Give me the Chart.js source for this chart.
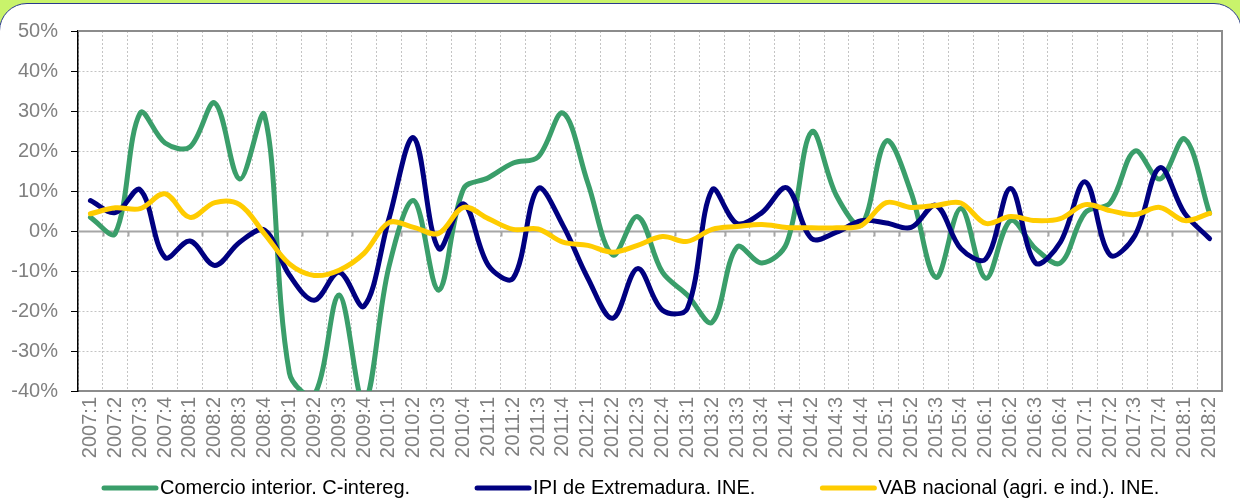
<!DOCTYPE html>
<html>
<head>
<meta charset="utf-8">
<script src="https://cdn.jsdelivr.net/npm/chart.js@4.4.1/dist/chart.umd.min.js"></script>
<style>
  html, body { margin: 0; padding: 0; }
  body { width: 1240px; height: 501px; background: #c9f36b; overflow: hidden; position: relative; }
  #card { position: absolute; left: -1px; top: 3px; width: 1241px; height: 530px;
          background: #fff; border: 1px solid #2a3a8c; border-radius: 28px; }
  #wrap { position: absolute; left: 0; top: 0; width: 1240px; height: 501px; }
</style>
</head>
<body>
<div id="card"></div>
<div id="wrap"><canvas id="lineChart" width="1240" height="501"></canvas></div>
<script>
// quarters and series (% yoy)
const quarters = ['2007:1', '2007:2', '2007:3', '2007:4', '2008:1', '2008:2', '2008:3', '2008:4',
    '2009:1', '2009:2', '2009:3', '2009:4', '2010:1', '2010:2', '2010:3', '2010:4',
    '2011:1', '2011:2', '2011:3', '2011:4', '2012:1', '2012:2', '2012:3', '2012:4',
    '2013:1', '2013:2', '2013:3', '2013:4', '2014:1', '2014:2', '2014:3', '2014:4',
    '2015:1', '2015:2', '2015:3', '2015:4', '2016:1', '2016:2', '2016:3', '2016:4',
    '2017:1', '2017:2', '2017:3', '2017:4', '2018:1', '2018:2'];

const comercio = [3.4, -0.6, 29.5, 22, 21, 32, 13, 29, -35.5, -41, -16, -43, -9, 7.6, -14.8, 10.5,
    13.3, 17, 18.5, 29.5, 12, -6, 3.6, -10.3, -16, -22.8, -4, -8, -3, 24.8, 8.8, 1.5,
    22.5, 9.6, -11.6, 5.6, -11.8, 2.6, -4.4, -8, 4.6, 7, 20, 13, 23, 4.4];

const ipi = [7.6, 4.6, 10.3, -6.6, -2.5, -8.6, -2.8, 0.2, -11, -17.3, -10.3, -18.8, 3, 23.3, -4.4, 6.8,
    -8.6, -11.8, 10.6, 1.4, -11.8, -21.8, -9.4, -19.8, -19.4, 10.3, 1.9, 4.6, 10.8, -1.9, -0.3, 2.6,
    2, 0.9, 6.4, -4.4, -7, 10.6, -8, -2.8, 12.3, -6, -1.1, 15.8, 4.4, -1.9];

const vab = [4.3, 5.8, 5.6, 9.3, 3.4, 7.1, 6.6, -0.7, -8.2, -11.1, -9.8, -5.6, 2.1, 0.9, -0.6, 5.9,
    3.1, 0.4, 0.5, -2.8, -3.6, -5.3, -3.6, -1.4, -2.6, 0.4, 1.1, 1.6, 0.9, 0.8, 0.8, 1.4,
    7.1, 5.9, 6.4, 7, 1.9, 3.6, 2.6, 3.1, 6.6, 5.1, 4.1, 5.9, 2.6, 4.4];

const yMin = -40, yMax = 50, yStep = 10;

const seriesNames = ['Comercio interior. C-intereg.', 'IPI de Extremadura. INE.', 'VAB nacional (agri. e ind.). INE.'];
const seriesColors = ['#3a9e6a', '#000080', '#ffcc00'];

const FONT = '"Liberation Sans", Arial, sans-serif';

// zero line with small ticks, plus the grey frame on top and right
const framePlugin = {
    id: 'frame',
    beforeDatasetsDraw(chart) {
        const { ctx, chartArea: a, scales } = chart;
        const y0 = Math.round(scales.y.getPixelForValue(0)) + 0.5;
        ctx.save();
        ctx.strokeStyle = '#a6a6a6';
        ctx.lineWidth = 2;
        ctx.beginPath();
        ctx.moveTo(a.left, y0);
        ctx.lineTo(a.right, y0);
        for (let i = 1; i < quarters.length; i++) {
            const x = Math.round((scales.x.getPixelForValue(i - 1) + scales.x.getPixelForValue(i)) / 2) + 0.5;
            ctx.moveTo(x, y0);
            ctx.lineTo(x, y0 + 5);
        }
        ctx.stroke();
        ctx.strokeStyle = '#8c8c8c';
        ctx.lineWidth = 2;
        ctx.beginPath();
        ctx.moveTo(a.left, a.top);
        ctx.lineTo(a.right, a.top);
        ctx.lineTo(a.right, a.bottom);
        ctx.stroke();
        ctx.restore();
    }
};

// Excel-style legend row: long line sample, text right after it, wide gaps
const legendRow = {
    id: 'legendRow',
    afterDraw(chart) {
        const { ctx } = chart;
        const y = chart.height - 13;
        let x = 102;
        ctx.save();
        ctx.font = '20px ' + FONT;
        ctx.textBaseline = 'middle';
        ctx.textAlign = 'left';
        chart.data.datasets.forEach((ds) => {
            ctx.strokeStyle = ds.borderColor;
            ctx.lineWidth = 5;
            ctx.lineCap = 'round';
            ctx.beginPath();
            ctx.moveTo(x + 2, y);
            ctx.lineTo(x + 54, y);
            ctx.stroke();
            ctx.fillStyle = '#000';
            ctx.fillText(ds.label, x + 58, y);
            x += 58 + ctx.measureText(ds.label).width + 65;
        });
        ctx.restore();
    }
};

const ctx = document.getElementById('lineChart').getContext('2d');
new Chart(ctx, {
    type: 'line',
    data: {
        labels: quarters,
        datasets: [{
            label: seriesNames[0],
            data: comercio,
            borderColor: seriesColors[0],
            backgroundColor: seriesColors[0],
            order: 2
        }, {
            label: seriesNames[1],
            data: ipi,
            borderColor: seriesColors[1],
            backgroundColor: seriesColors[1],
            order: 1
        }, {
            label: seriesNames[2],
            data: vab,
            borderColor: seriesColors[2],
            backgroundColor: seriesColors[2],
            order: 0
        }]
    },
    options: {
        responsive: false,
        animation: false,
        layout: { padding: { top: 31, right: 18, left: 0, bottom: 32 } },
        elements: {
            line: { borderWidth: 5, tension: 0.35, fill: false, borderCapStyle: 'round' },
            point: { radius: 0, hoverRadius: 0 }
        },
        datasets: { line: { clip: 0 } },
        plugins: {
            tooltip: { enabled: false },
            legend: { display: false }
        },
        scales: {
            x: {
                offset: true,
                afterFit(scale) { scale.height = 78; },
                ticks: {
                    color: '#808080',
                    font: { family: FONT, size: 20 },
                    autoSkip: false,
                    maxRotation: 90,
                    minRotation: 90,
                    padding: 6
                },
                grid: {
                    offset: true,
                    color: '#c4c4c4',
                    drawTicks: false
                },
                border: { color: '#8c8c8c', width: 2, dash: [2, 2] }
            },
            y: {
                min: yMin,
                max: yMax,
                afterFit(scale) { scale.width = 78; },
                ticks: {
                    stepSize: yStep,
                    color: '#808080',
                    font: { family: FONT, size: 20 },
                    padding: 13,
                    callback: (v) => v + '%'
                },
                grid: {
                    color: '#c4c4c4',
                    tickColor: '#000',
                    tickLength: 7,
                    tickBorderDash: []
                },
                border: { color: '#000', width: 1.5, dash: [2, 2] }
            }
        }
    },
    plugins: [framePlugin, legendRow]
});
</script>
</body>
</html>
